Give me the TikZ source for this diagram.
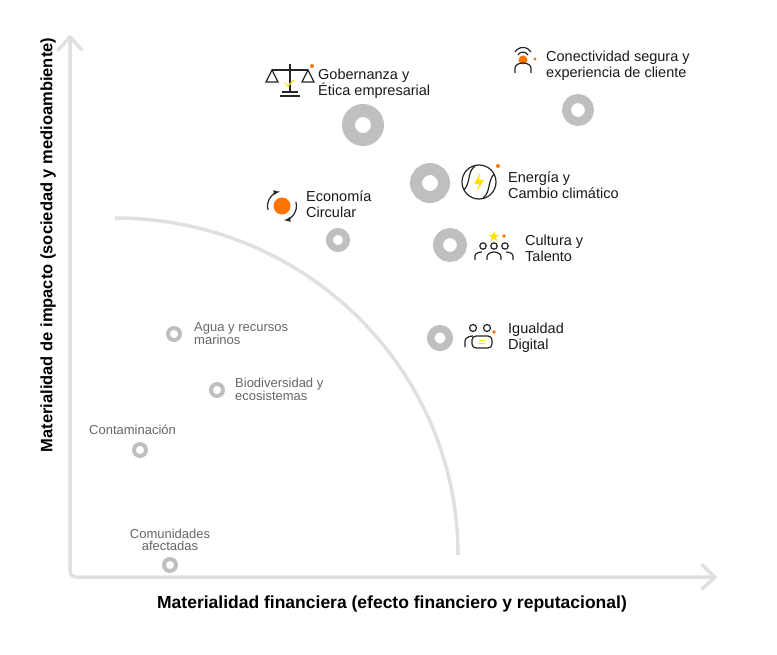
\documentclass[tikz,border=0pt]{standalone}
\usepackage{fontspec}
\setmainfont{Liberation Sans}
\begin{document}
\begin{tikzpicture}[x=1pt,y=-1pt,
 ax/.style={line width=3.5pt,draw=black!12,line cap=round,line join=round},
 lbl/.style={anchor=west,align=left,font=\fontsize{14.5}{16}\selectfont,text=black!90,inner sep=0pt},
 slbl/.style={anchor=west,align=left,font=\fontsize{13}{12}\selectfont,text=black!60,inner sep=0pt},
 ic/.style={line width=1.2pt,draw=black!85},
 dot/.style={fill=orange!90!red}]
\useasboundingbox (0,0) rectangle (777,655);
\coordinate (yt) at (70,37); \coordinate (o) at (70,577); \coordinate (xr) at (715,577);
\draw[ax,rounded corners=6pt] (yt) -- (o) -- (xr);
\draw[ax] (58,50) -- (yt) -- (82,50);
\draw[ax] (702,565) -- (xr) -- (702,589);
\draw[line width=3.5pt,draw=black!12] (115,218) arc[start angle=-90,end angle=0,x radius=343,y radius=337];
% rings
\foreach \n/\x/\y/\r/\w in {g/363/125/21/13, c/578/110/16/9, e/430/183/20/12, ec/338/240/12/7, cu/450/245/17/10, ig/440/338/13/7.5, a/174/334/8/4, b/217/390/8/4, ct/140/450/8/4, cm/170/565/8/4}
 \node[circle,minimum size=2*\r pt-\w pt,draw=black!25,line width=\w pt,inner sep=0pt] (r\n) at (\x,\y) {};
% labels
\node[lbl] (tg) at (318,84) {Gobernanza y\\Ética empresarial};
\node[lbl] (tc) at (546,66) {Conectividad segura y\\experiencia de cliente};
\node[lbl] (te) at (508,185) {Energía y\\Cambio climático};
\node[lbl] (tec) at (306,204) {Economía\\Circular};
\node[lbl] (tcu) at (525,248) {Cultura y\\Talento};
\node[lbl] (tig) at (508,338) {Igualdad\\Digital};
\node[slbl] (ta) at (194,334) {Agua y recursos\\marinos};
\node[slbl] (tb) at (235,389) {Biodiversidad y\\ecosistemas};
\node[slbl] (tct) at (89,430) {Contaminación};
\node[slbl,anchor=center,align=center] (tcm) at (170,540) {Comunidades\\afectadas};
\node[font=\bfseries\fontsize{17.5}{18}\selectfont] (xl) at (392,604) {Materialidad financiera (efecto financiero y reputacional)};
\node[font=\bfseries\fontsize{16.5}{18}\selectfont,rotate=90] (yl) at (48,245) {Materialidad de impacto (sociedad y medioambiente)};
% icons: scales
\begin{scope}[shift={(290,80)}]
\draw[ic] (-18,-10) -- (18,-10) (0,-16) -- (0,12) (-8,12) -- (8,12);
\draw[ic] (-18,-10) -- (-24,2) -- (-12,2) -- cycle (18,-10) -- (12,2) -- (24,2) -- cycle;
\draw[ic] (-10,16) -- (10,16);
\draw[yellow!80!orange,line width=1.3pt] (-5,3) -- (-2,6) -- (4,0);
\fill[dot] (22,-14) circle (2);
\end{scope}
% connectivity
\begin{scope}[shift={(523,63)}]
\draw[ic] (-8,-11) arc(-150:-30:9.2) (-5,-8) arc(-150:-30:5.8);
\fill[dot] (0,-3) circle (4.5);
\draw[ic] (-8,10) -- (-8,5) arc(-180:0:8 and 5) -- (8,10);
\fill[dot] (12,-4) circle (1.7);
\end{scope}
% energy
\begin{scope}[shift={(479,182)}]
\draw[ic] (0,0) circle (17);
\draw[ic] (-15,8) .. controls (-8,0) and (-12,-10) .. (-4,-16);
\draw[ic] (15,-8) .. controls (8,0) and (12,10) .. (4,16);
\fill[yellow!85!orange] (1,-9) -- (-5,2) -- (0,2) -- (-2,9) -- (5,-2) -- (0,-2) -- cycle;
\fill[dot] (19,-16) circle (2);
\end{scope}
% circular
\begin{scope}[shift={(282,206)}]
\fill[dot] (0,0) circle (8.5);
\draw[ic,-latex] (164:14.5) arc(164:262:14.5);
\draw[ic,-latex] (-16:14.5) arc(-16:82:14.5);
\end{scope}
% culture
\begin{scope}[shift={(494,250)}]
\foreach \dx in {-11,0,11} \draw[ic] (\dx,-4) circle (3.2);
\draw[ic] (-19,10) -- (-19,6) arc(-180:-90:7 and 4) (19,10) -- (19,6) arc(0:-90:7 and 4);
\draw[ic] (-7,10) -- (-7,7) arc(-180:0:7 and 5) -- (7,10);
\fill[yellow!85!orange] (0,-19) -- (1.5,-15) -- (5,-15) -- (2,-12.5) -- (3.2,-9) -- (0,-11) -- (-3.2,-9) -- (-2,-12.5) -- (-5,-15) -- (-1.5,-15) -- cycle;
\fill[dot] (10,-14) circle (1.8);
\end{scope}
% equality
\begin{scope}[shift={(481,338)}]
\draw[ic] (-8,-10) circle (3.5) (6,-10) circle (3.5);
\draw[ic] (-16,9) -- (-16,3) arc(-180:-90:8 and 5);
\draw[ic,rounded corners=4pt] (-9,-2) rectangle (11,10);
\fill[yellow!85!orange] (-2,2) rectangle (4,3.2) (-2,5) rectangle (4,6.2);
\fill[dot] (13,-6) circle (1.8);
\end{scope}
\end{tikzpicture}
\end{document}
